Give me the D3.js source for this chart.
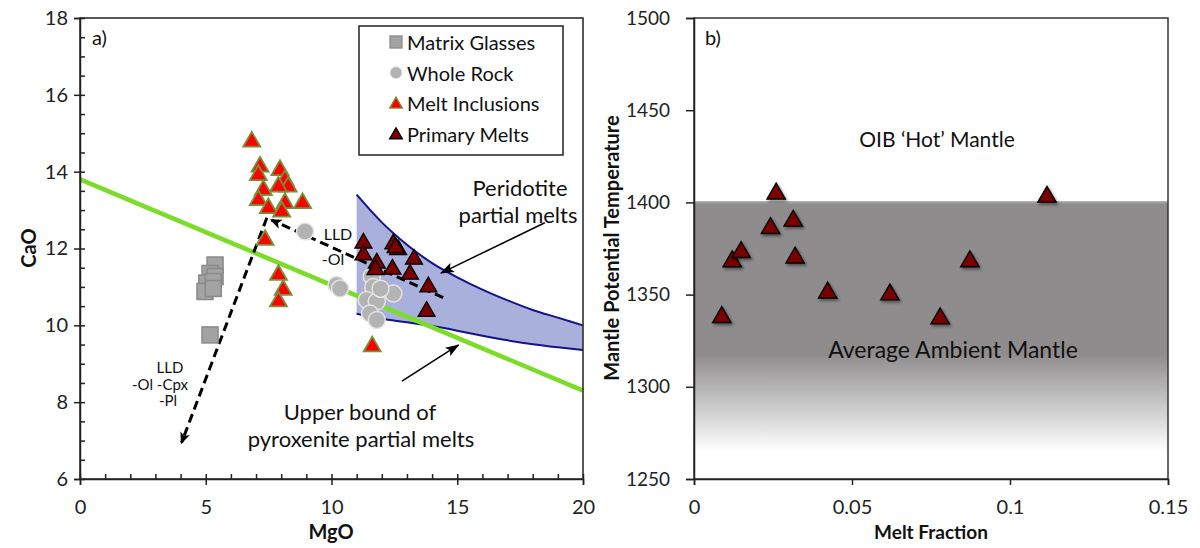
<!DOCTYPE html>
<html>
<head>
<meta charset="utf-8">
<script src="https://cdn.jsdelivr.net/npm/d3@7"></script>
<style>
  html, body { margin: 0; padding: 0; background: #fff; }
  svg { display: block; font-family: Lato, "Open Sans", sans-serif; }
</style>
</head>
<body>
<svg id="fig" width="1200" height="548"></svg>
<script>
// ---------- Panel a) CaO vs MgO ----------
const matrixGlasses = [
  [5.37, 11.57], [5.17, 11.35], [5.37, 11.27], [5.04, 11.10],
  [5.30, 11.14], [4.97, 10.88], [5.30, 10.96], [5.17, 9.75]
];
const wholeRock = [
  [8.95, 12.44], [10.20, 11.05], [10.34, 10.96], [11.60, 11.27],
  [11.66, 11.00], [11.40, 10.66], [11.80, 10.62], [12.46, 10.83],
  [11.53, 10.31], [11.80, 10.14], [11.95, 10.95]
];
const meltInclusions = [
  [6.83, 14.78], [7.16, 14.13], [7.09, 13.91], [7.95, 14.04],
  [8.15, 13.78], [8.28, 13.61], [7.89, 13.61], [7.29, 13.52],
  [7.09, 13.26], [8.15, 13.18], [7.49, 13.05], [8.85, 13.18],
  [8.02, 12.96], [7.36, 12.22], [7.89, 11.31], [8.08, 10.92],
  [7.89, 10.62], [11.62, 9.45]
];
const primaryMelts = [
  [11.27, 12.14], [11.27, 11.83], [11.80, 11.62], [11.75, 11.45],
  [12.46, 12.12], [12.65, 11.97], [12.55, 12.02], [12.42, 11.46],
  [13.28, 11.72], [13.12, 11.33], [13.85, 11.00], [13.78, 10.36]
];
// Peridotite partial-melt field (upper and lower bounding curves)
const peridotiteUpper = [
  [11, 13.40], [12, 12.68], [13, 12.10], [14, 11.62], [15, 11.25],
  [16, 10.93], [17, 10.65], [18, 10.40], [19, 10.20], [20, 10.00]
];
const peridotiteLower = [
  [11, 10.30], [12, 10.17], [13, 10.08], [14, 9.98], [15, 9.86],
  [16, 9.73], [17, 9.61], [18, 9.51], [19, 9.43], [20, 9.36]
];
// Upper bound of pyroxenite partial melts
const pyroxeniteBound = [[0, 13.8], [20, 8.3]];
// Liquid lines of descent
const lldOlCpxPl = [[7.43, 12.80], [4.04, 6.95]];
const lldOl = [[14.44, 10.72], [7.62, 12.74]];
const calloutPeridotite = [[18.48, 12.67], [14.35, 11.36]];
const calloutPyroxenite = [[12.8, 8.55], [15.05, 9.49]];
const mgoTicks = [0, 5, 10, 15, 20];
const caoTicks = [6, 8, 10, 12, 14, 16, 18];

// ---------- Panel b) Tp vs melt fraction ----------
const meltFraction = [0.0088, 0.0121, 0.0149, 0.0242, 0.0260, 0.0314,
                      0.0320, 0.0423, 0.0620, 0.0779, 0.0873, 0.1117];
const potentialTemp = [1337.7, 1368, 1373, 1386, 1404.7, 1390,
                       1370, 1351, 1350, 1337, 1368, 1403];
const fractionTicks = [0, 0.05, 0.1, 0.15];
const tempTicks = [1250, 1300, 1350, 1400, 1450, 1500];
const ambientTop = 1400, ambientSolidTo = 1318, ambientFadeTo = 1265;

const svg = d3.select("#fig");
const defs = svg.append("defs");

// Arrowheads
defs.append("marker").attr("id", "headDash")
  .attr("viewBox", "0 0 12 10").attr("refX", 10).attr("refY", 5)
  .attr("markerWidth", 12).attr("markerHeight", 10)
  .attr("markerUnits", "userSpaceOnUse").attr("orient", "auto")
  .append("path").attr("d", "M0,0 L12,5 L0,10 L3,5 Z").attr("fill", "#000");
defs.append("marker").attr("id", "headSolid")
  .attr("viewBox", "0 0 14 10").attr("refX", 13).attr("refY", 5)
  .attr("markerWidth", 14).attr("markerHeight", 10)
  .attr("markerUnits", "userSpaceOnUse").attr("orient", "auto")
  .append("path").attr("d", "M0,0 L14,5 L0,10 L3,5 Z").attr("fill", "#000");

// Soft shadow for the triangles of panel b
const shadow = defs.append("filter").attr("id", "shadow")
  .attr("x", "-50%").attr("y", "-50%").attr("width", "200%").attr("height", "200%");
shadow.append("feDropShadow").attr("dx", 1.5).attr("dy", 2)
  .attr("stdDeviation", 1.5).attr("flood-color", "#000").attr("flood-opacity", 0.45);

// Ambient mantle gradient
const xR = d3.scaleLinear([0, 0.15], [694, 1168]);
const yR = d3.scaleLinear([1250, 1500], [479, 18]);
const grad = defs.append("linearGradient").attr("id", "ambient")
  .attr("gradientUnits", "userSpaceOnUse")
  .attr("x1", 0).attr("x2", 0).attr("y1", yR(ambientTop)).attr("y2", yR(ambientFadeTo));
const solidFrac = (yR(ambientSolidTo) - yR(ambientTop)) / (yR(ambientFadeTo) - yR(ambientTop));
grad.append("stop").attr("offset", 0).attr("stop-color", "#8e8c8d");
grad.append("stop").attr("offset", solidFrac).attr("stop-color", "#8e8c8d");
grad.append("stop").attr("offset", 1).attr("stop-color", "#ffffff");

// ================= Panel a =================
const xL = d3.scaleLinear([0, 20], [80, 583]);
const yL = d3.scaleLinear([6, 18], [479, 18]);
const gA = svg.append("g");

const line = d3.line().x(d => xL(d[0])).y(d => yL(d[1]));
const smooth = d3.line().x(d => xL(d[0])).y(d => yL(d[1])).curve(d3.curveMonotoneX);

// peridotite field
gA.append("path")
  .attr("d", smooth(peridotiteUpper) + "L" + smooth(peridotiteLower.slice().reverse()).slice(1) + "Z")
  .attr("fill", "#aab0dc").attr("stroke", "none");
gA.append("path").attr("d", smooth(peridotiteUpper))
  .attr("fill", "none").attr("stroke", "#13138a").attr("stroke-width", 2);
gA.append("path").attr("d", smooth(peridotiteLower))
  .attr("fill", "none").attr("stroke", "#13138a").attr("stroke-width", 2);

// pyroxenite bound
gA.append("path").attr("d", line(pyroxeniteBound))
  .attr("fill", "none").attr("stroke", "#7ddc29").attr("stroke-width", 4.5);

// LLD dashed arrows
[lldOlCpxPl, lldOl].forEach(seg => {
  gA.append("path").attr("d", line(seg))
    .attr("fill", "none").attr("stroke", "#000").attr("stroke-width", 3)
    .attr("stroke-dasharray", "9,5").attr("marker-end", "url(#headDash)");
});

// markers
const sym = (type, size) => d3.symbol(type, size)();
gA.selectAll(".mg").data(matrixGlasses).join("rect")
  .attr("x", d => xL(d[0]) - 8).attr("y", d => yL(d[1]) - 8)
  .attr("width", 16).attr("height", 16)
  .attr("fill", "#a3a3a3").attr("stroke", "#8a8a8a").attr("stroke-width", 1.5);
gA.selectAll(".wr").data(wholeRock).join("circle")
  .attr("cx", d => xL(d[0])).attr("cy", d => yL(d[1])).attr("r", 8.5)
  .attr("fill", "#b3b3b3").attr("stroke", "#e4e4e4").attr("stroke-width", 1.5);
gA.selectAll(".mi").data(meltInclusions).join("path")
  .attr("d", sym(d3.symbolTriangle, 125))
  .attr("transform", d => `translate(${xL(d[0])},${yL(d[1])})`)
  .attr("fill", "#ff0000").attr("stroke", "#77903a").attr("stroke-width", 1.8);
gA.selectAll(".pm").data(primaryMelts).join("path")
  .attr("d", sym(d3.symbolTriangle, 125))
  .attr("transform", d => `translate(${xL(d[0])},${yL(d[1])})`)
  .attr("fill", "#7a0000").attr("stroke", "#000").attr("stroke-width", 1.3);

// callout arrows
[calloutPeridotite, calloutPyroxenite].forEach(seg => {
  gA.append("path").attr("d", line(seg))
    .attr("fill", "none").attr("stroke", "#000").attr("stroke-width", 1.5)
    .attr("marker-end", "url(#headSolid)");
});

// frame + axes
gA.append("rect").attr("x", 80).attr("y", 18).attr("width", 503).attr("height", 461)
  .attr("fill", "none").attr("stroke", "#222").attr("stroke-width", 1.5);

gA.append("g").attr("transform", "translate(80,0)")
  .call(d3.axisLeft(yL).tickValues(caoTicks).tickSize(6).tickPadding(6));
gA.append("g").attr("transform", "translate(80,0)")
  .call(d3.axisRight(yL).tickValues(d3.range(6, 18.01, 0.5)).tickSize(5).tickFormat(""))
  .call(g => g.select(".domain").remove());
gA.append("g").attr("transform", "translate(0,479)")
  .call(d3.axisBottom(xL).tickValues(mgoTicks).tickSize(6).tickPadding(15));
gA.append("g").attr("transform", "translate(0,479)")
  .call(d3.axisTop(xL).tickValues(d3.range(0, 20.01, 1)).tickSize(5).tickFormat(""))
  .call(g => g.select(".domain").remove());

// ================= Panel b =================
const gB = svg.append("g");
gB.append("rect").attr("x", 694).attr("y", yR(ambientTop))
  .attr("width", 474).attr("height", 479 - yR(ambientTop)).attr("fill", "url(#ambient)");
gB.append("line").attr("x1", 694).attr("x2", 1168)
  .attr("y1", yR(ambientTop)).attr("y2", yR(ambientTop))
  .attr("stroke", "#9c9c9c").attr("stroke-width", 2.5);

gB.selectAll(".tp").data(meltFraction).join("path")
  .attr("d", sym(d3.symbolTriangle, 145))
  .attr("transform", (d, i) => `translate(${xR(d)},${yR(potentialTemp[i])})`)
  .attr("fill", "#7a0000").attr("stroke", "#000").attr("stroke-width", 1.4)
  .attr("filter", "url(#shadow)");

gB.append("rect").attr("x", 694).attr("y", 18).attr("width", 474).attr("height", 461)
  .attr("fill", "none").attr("stroke", "#333").attr("stroke-width", 1.5);
const axR = gB.append("g").attr("transform", "translate(694,0)")
  .call(d3.axisLeft(yR).tickValues(tempTicks).tickSize(8).tickPadding(16).tickFormat(d3.format("d")));
gB.append("g").attr("transform", "translate(0,479)")
  .call(d3.axisBottom(xR).tickValues(fractionTicks).tickSize(6).tickPadding(15)
    .tickFormat(d => d === 0 ? "0" : String(d)));

// axis styling
svg.selectAll(".tick text").attr("font-size", 20).attr("fill", "#222")
  .attr("font-family", "Lato, sans-serif");
axR.selectAll(".tick text").attr("font-size", 19);
svg.selectAll(".domain, .tick line").attr("stroke", "#222").attr("stroke-width", 1.5);

// ---------- text ----------
const txt = (x, y, s, size, opts = {}) => svg.append("text")
  .attr("x", x).attr("y", y).text(s)
  .attr("font-size", size).attr("fill", "#111")
  .attr("text-anchor", opts.anchor || "middle")
  .attr("font-weight", opts.bold ? "bold" : "normal")
  .attr("transform", opts.rotate ? `rotate(-90,${x},${y})` : null);

txt(331, 539, "MgO", 20, { bold: true });
txt(36, 248, "CaO", 20, { bold: true, rotate: true });
txt(931, 539, "Melt Fraction", 19, { bold: true });
txt(619, 248, "Mantle Potential Temperature", 20, { bold: true, rotate: true });

txt(92, 45, "a)", 20, { anchor: "start" });
txt(705, 45, "b)", 20, { anchor: "start" });

txt(520, 196, "Peridotite", 22);
txt(518, 223, "partial melts", 22);
txt(360, 420, "Upper bound of", 22);
txt(361, 447, "pyroxenite partial melts", 22);
txt(338, 240, "LLD", 16);
txt(333, 265, "-Ol", 16);
txt(170, 373, "LLD", 15);
txt(160, 390, "-Ol -Cpx", 15);
txt(168, 406, "-Pl", 15);

txt(937, 147, "OIB \u2018Hot\u2019 Mantle", 21);
txt(953, 358, "Average Ambient Mantle", 23);

// ---------- legend ----------
const leg = svg.append("g");
leg.append("rect").attr("x", 359).attr("y", 26).attr("width", 204).attr("height", 129)
  .attr("fill", "#fff").attr("stroke", "#222").attr("stroke-width", 1.5);
const legendItems = [
  { label: "Matrix Glasses", kind: "square" },
  { label: "Whole Rock", kind: "circle" },
  { label: "Melt Inclusions", kind: "mi" },
  { label: "Primary Melts", kind: "pm" }
];
legendItems.forEach((it, i) => {
  const cy = 43 + i * 30.7, cx = 396;
  if (it.kind === "square") {
    leg.append("rect").attr("x", cx - 6).attr("y", cy - 7).attr("width", 12).attr("height", 12)
      .attr("fill", "#a3a3a3").attr("stroke", "#8a8a8a").attr("stroke-width", 1.3);
  } else if (it.kind === "circle") {
    leg.append("circle").attr("cx", cx).attr("cy", cy - 1).attr("r", 6)
      .attr("fill", "#b3b3b3").attr("stroke", "#e4e4e4");
  } else {
    leg.append("path").attr("d", sym(d3.symbolTriangle, 70))
      .attr("transform", `translate(${cx},${cy})`)
      .attr("fill", it.kind === "mi" ? "#ff0000" : "#7a0000")
      .attr("stroke", it.kind === "mi" ? "#77903a" : "#000").attr("stroke-width", 1.3);
  }
  leg.append("text").attr("x", 407).attr("y", cy + 7).text(it.label)
    .attr("font-size", 20).attr("fill", "#111");
});
</script>
</body>
</html>
